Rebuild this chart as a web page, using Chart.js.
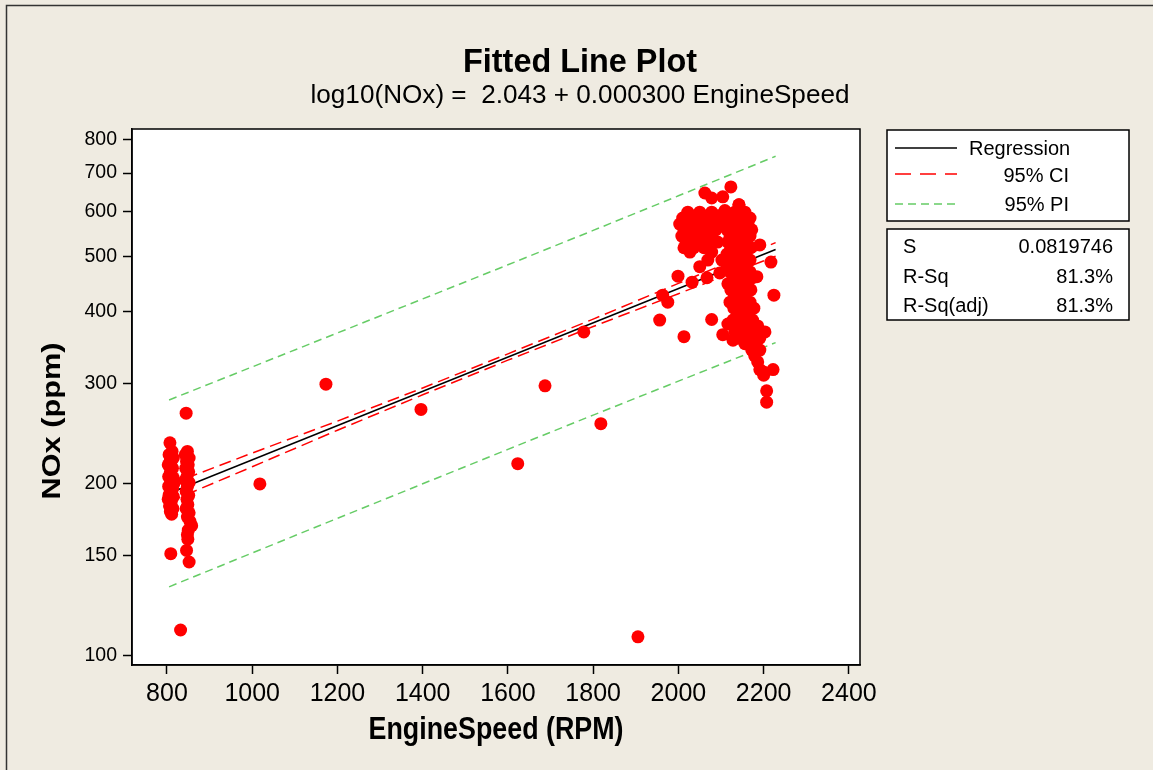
<!DOCTYPE html>
<html><head><meta charset="utf-8">
<script src="https://cdn.jsdelivr.net/npm/chart.js@4.4.0/dist/chart.umd.min.js"></script>
<style>html,body{margin:0;padding:0;background:#EFEBE1;}canvas{display:block;}</style>
</head><body>
<canvas id="c" width="1153" height="770"></canvas>
<script>
const xTicks = [800,1000,1200,1400,1600,1800,2000,2200,2400];
const yTicks = [100,150,200,300,400,500,600,700,800];

// low-speed cluster
const lowRpm = [807,812,805,815,808,803,813,808,804,815,809,804,813,807,815,803,810,806,814,808,811,805,816,810,809,
  848,843,852,846,850,844,851,847,843,852,848,845,851,847,849,845,852,848,854,858,850,848,849,846,852,845,832];
const lowNox = [236,228,225,222,220,216,213,210,206,205,201,198,196,193,190,188,186,183,181,179,177,191,200,215,151,
  228,225,222,219,216,213,210,206,203,201,198,194,191,188,184,181,178,175,172,169,166,163,160,153,146,266,111];
// isolated mid-speed points
const midRpm = [1018,1173,1396,1623,1687,1778,1818,1905,1956];
const midNox = [200,299,270,217,297,369,255,108,387];
// high-speed cluster
const highRpm = [2022,2050,2078, 2010,2036,2062,2088, 2003,2027,2050,2074,2097, 2013,2039,2064,2088, 2008,2032,2055,2078, 2018,2043,2069,2092, 2013,2036,2060, 2027,2078,
 2062,2078,2104,2123,2142,2020,2109,2097,
 2050,2069,2067,1999,2032,1963,1975,2013,2078,2104,2116,2128,2144,2191,2217,2224,2184,2097,2102,2207,2207,2222,2200,
 2142, 2132,2156, 2121,2144,2168, 2116,2139,2163, 2114,2135,2156,2172, 2121,2144,2168, 2116,2137,2158, 2123,2146,2170, 2114,2135,2156, 2121,2144,2168, 2114,2135,2158, 2121,2144,2168, 2128,2151,2174, 2116,2139,2163, 2123,2146,2170, 2132,2156, 2121,2144,2168, 2130,2153,2177, 2139,2163, 2128,2151,2174, 2139,2163,2186, 2132,2156,2179,2203, 2144,2168,2191, 2156,2179, 2172,2191, 2179, 2186, 2191, 2200];
const highNox = [598,598,598, 584,584,584,584, 570,570,570,570,570, 557,557,557,557, 543,543,543,543, 530,530,530,530, 518,518,518, 509,509,
 646,633,636,662,616,591,602,590,
 480,493,459,462,451,428,416,362,388,365,381,357,360,524,489,428,461,468,493,291,278,317,314,
 616, 598,598, 584,584,584, 570,570,570, 557,557,557,557, 543,543,543, 530,530,530, 518,518,518, 505,505,505, 493,493,493, 481,481,481, 470,470,470, 459,459,459, 448,448,448, 437,437,437, 427,427, 416,416,416, 406,406,406, 397,397, 387,387,387, 378,378,378, 369,369,369,369, 360,360,360, 352,352, 343,343, 335, 327, 317, 310];

// fitted line and bands
const fitRpm = [805, 2228];
const fitNox = [192.6, 514.5];
const bandRpm = [805, 1000, 1200, 1400, 1600, 1800, 2000, 2228];
const ciUpper = [199.3, 226.5, 257.6, 294.4, 337.8, 388.6, 448.7, 528.9];
const ciLower = [186.0, 214.3, 248.3, 286.4, 329.3, 377.1, 430.5, 500.6];
const piUpper = [280.5, 320.5, 367.5, 421.5, 483.6, 555.5, 638.7, 748.9];
const piLower = [132.1, 151.4, 174.1, 200.1, 229.9, 263.9, 302.6, 353.5];

const legendItems = ['Regression', '95% CI', '95% PI'];
const statLabels = ['S', 'R-Sq', 'R-Sq(adj)'];
const statValues = ['0.0819746', '81.3%', '81.3%'];
const titleText = 'Fitted Line Plot';
const subtitleText = 'log10(NOx) =  2.043 + 0.000300 EngineSpeed';
const xTitle = 'EngineSpeed (RPM)';
const yTitle = 'NOx (ppm)';

const pts = (xs, ys) => xs.map((x, i) => ({x: x, y: ys[i]}));
const allRpm = lowRpm.concat(midRpm, highRpm);
const allNox = lowNox.concat(midNox, highNox);

const RED = '#FF0000', GREEN = '#66CC66';
const F = '"Liberation Sans", Arial, sans-serif';

function fitText(ctx, text, x, y, font, targetW, align, sy) {
  ctx.save();
  ctx.font = font;
  const w = ctx.measureText(text).width;
  const sx = targetW / w;
  ctx.translate(x, y);
  ctx.scale(sx, sy || 1);
  ctx.textAlign = align;
  ctx.fillText(text, 0, 0);
  ctx.restore();
}

const decor = {
  id: 'decor',
  beforeDraw(chart) {
    const {ctx, chartArea: a} = chart;
    ctx.save();
    ctx.fillStyle = '#EFEBE1';
    ctx.fillRect(0, 0, chart.width, chart.height);
    ctx.strokeStyle = '#333'; ctx.lineWidth = 1.5;
    ctx.beginPath(); ctx.moveTo(6.5, 770); ctx.lineTo(6.5, 5.5); ctx.lineTo(1153, 5.5); ctx.stroke();
    ctx.fillStyle = '#FFFFFF';
    ctx.fillRect(a.left, a.top, a.right - a.left, a.bottom - a.top);
    ctx.restore();
  },
  afterDraw(chart) {
    const {ctx, chartArea: a} = chart;
    ctx.save();
    ctx.strokeStyle = '#000'; ctx.lineWidth = 1.5;
    ctx.strokeRect(a.left, a.top, a.right - a.left, a.bottom - a.top);
    ctx.fillStyle = '#000';
    ctx.textBaseline = 'alphabetic';
    fitText(ctx, titleText, 580, 72, 'bold 33px ' + F, 234, 'center');
    fitText(ctx, subtitleText, 580, 103, '25px ' + F, 539, 'center');
    fitText(ctx, xTitle, 496, 739, 'bold 32px ' + F, 255, 'center');
    // y title rotated
    ctx.save();
    ctx.translate(53, 421);
    ctx.rotate(-Math.PI / 2);
    ctx.font = 'bold 30px ' + F;
    const w = ctx.measureText(yTitle).width;
    ctx.scale(157 / w, 0.88);
    ctx.textAlign = 'center'; ctx.textBaseline = 'middle';
    ctx.fillText(yTitle, 0, 0);
    ctx.restore();

    // legend boxes
    ctx.fillStyle = '#FFF';
    ctx.fillRect(887, 130, 242, 91);
    ctx.fillRect(887, 229, 242, 91);
    ctx.strokeStyle = '#000'; ctx.lineWidth = 1.5;
    ctx.strokeRect(887, 130, 242, 91);
    ctx.strokeRect(887, 229, 242, 91);
    const lineYs = [148, 174, 204];
    const styles = [['#000', []], [RED, [16, 9]], [GREEN, [8, 5]]];
    for (let i = 0; i < 3; i++) {
      ctx.strokeStyle = styles[i][0];
      ctx.setLineDash(styles[i][1]);
      ctx.beginPath(); ctx.moveTo(895, lineYs[i]); ctx.lineTo(957, lineYs[i]); ctx.stroke();
    }
    ctx.setLineDash([]);
    ctx.fillStyle = '#000';
    ctx.font = '20px ' + F;
    ctx.textBaseline = 'alphabetic';
    ctx.textAlign = 'left';
    ctx.fillText(legendItems[0], 969, 155);
    ctx.textAlign = 'right';
    ctx.fillText(legendItems[1], 1069, 182);
    ctx.fillText(legendItems[2], 1069, 211);
    const statYs = [253, 283, 312];
    for (let i = 0; i < 3; i++) {
      ctx.textAlign = 'left';
      ctx.fillText(statLabels[i], 903, statYs[i]);
      ctx.textAlign = 'right';
      ctx.fillText(statValues[i], 1113, statYs[i]);
    }
    ctx.restore();
  }
};

new Chart(document.getElementById('c'), {
  type: 'scatter',
  data: {
    datasets: [
      {data: pts(allRpm, allNox), pointRadius: 6.5, pointHoverRadius: 6.5, backgroundColor: RED, borderColor: RED, borderWidth: 0},
      {data: pts(fitRpm, fitNox), showLine: true, pointRadius: 0, borderColor: '#000', borderWidth: 1.5},
      {data: pts(bandRpm, ciUpper), showLine: true, pointRadius: 0, borderColor: RED, borderWidth: 1.5, borderDash: [12, 6]},
      {data: pts(bandRpm, ciLower), showLine: true, pointRadius: 0, borderColor: RED, borderWidth: 1.5, borderDash: [12, 6]},
      {data: pts(bandRpm, piUpper), showLine: true, pointRadius: 0, borderColor: GREEN, borderWidth: 1.5, borderDash: [8, 5]},
      {data: pts(bandRpm, piLower), showLine: true, pointRadius: 0, borderColor: GREEN, borderWidth: 1.5, borderDash: [8, 5]}
    ]
  },
  options: {
    responsive: false,
    animation: false,
    devicePixelRatio: 1,
    layout: {padding: {left: 0, top: 129, right: 293, bottom: 0}},
    plugins: {legend: {display: false}, tooltip: {enabled: false}, title: {display: false}},
    scales: {
      x: {
        type: 'linear', min: 718, max: 2426,
        afterBuildTicks: (s) => { s.ticks = xTicks.map(v => ({value: v})); },
        afterFit: (s) => { s.height = 105; },
        grid: {drawOnChartArea: false, drawTicks: true, tickLength: 9, tickColor: '#000', tickWidth: 1.5},
        border: {display: true, color: '#000', width: 1.5},
        ticks: {autoSkip: false, maxRotation: 0, padding: 5, color: '#000', font: {family: F, size: 25}, callback: (v) => String(v)}
      },
      y: {
        type: 'logarithmic', min: 96.4, max: 836,
        afterBuildTicks: (s) => { s.ticks = yTicks.map(v => ({value: v})); },
        afterFit: (s) => { s.width = 132; },
        grid: {drawOnChartArea: false, drawTicks: true, tickLength: 9, tickColor: '#000', tickWidth: 1.5},
        border: {display: true, color: '#000', width: 1.5},
        ticks: {autoSkip: false, padding: 6, color: '#000', font: {family: F, size: 19.5}, callback: (v) => String(v)}
      }
    }
  },
  plugins: [decor]
});
</script>
</body></html>
